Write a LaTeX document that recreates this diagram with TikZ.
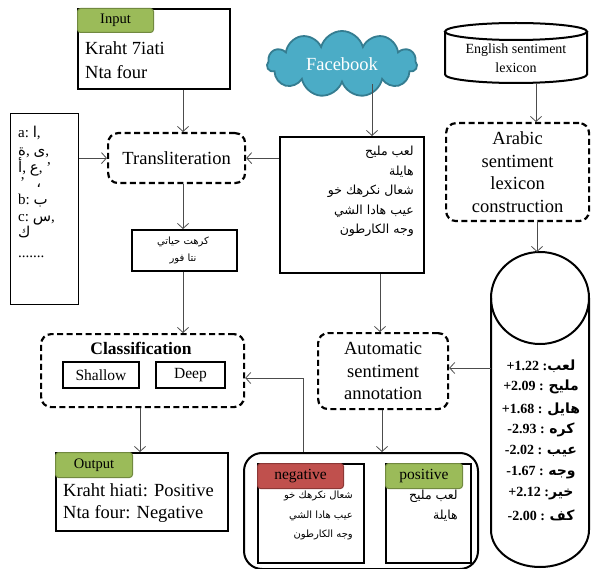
\documentclass[tikz,border=0pt]{standalone}
\usepackage{fontspec}
\setmainfont{Liberation Serif}
\newfontfamily\arabicfont[Script=Arabic]{DejaVu Sans}
\TeXXeTstate=1
\usetikzlibrary{arrows.meta,shapes.symbols,shapes.geometric}
\newcommand\AR[1]{{\arabicfont\beginR #1\endR}}
\newcommand\ARL[1]{{\arabicfont\fontsize{15}{17}\selectfont #1}}
\definecolor{gfill}{HTML}{9BBB59}
\definecolor{gdraw}{HTML}{71893F}
\definecolor{rfill}{HTML}{C0504D}
\definecolor{rdraw}{HTML}{8C3836}
\definecolor{cfill}{HTML}{4BACC6}
\definecolor{cdraw}{HTML}{357D91}
\begin{document}
\begin{tikzpicture}[x=1pt,y=-1pt,
  box/.style={draw, line width=2pt, inner sep=0pt, anchor=north west},
  dbox/.style={draw, line width=2.2pt, dash pattern=on 6pt off 3.5pt, rounded corners=10pt, inner sep=0pt, anchor=north west, align=center},
  tabg/.style={fill=gfill, draw=gdraw, line width=1pt, rounded corners=3pt, anchor=north west, inner sep=0pt, font=\fontsize{14.5}{16}\selectfont},
  tabr/.style={fill=rfill, draw=rdraw, line width=1pt, rounded corners=3pt, anchor=north west, inner sep=0pt, font=\fontsize{15.5}{17}\selectfont},
  big/.style={font=\fontsize{18.5}{22.5}\selectfont},
  lex/.style={font=\fontsize{14}{16}\selectfont\bfseries, inner sep=0pt},
  arsm/.style={font=\fontsize{12.5}{19.5}\selectfont, inner sep=0pt, align=right},
  lstline/.style={anchor=base west, inner sep=0pt, text height=10pt, text depth=2pt, font=\fontsize{15}{17}\selectfont},
  conn/.style={draw=black!70, line width=0.8pt, -{Straight Barb[length=5pt,width=11pt]}}]
\useasboundingbox (0,0) rectangle (594,569);

% Input
\node[box, minimum width=152pt, minimum height=80pt] (inp) at (77,8) {};
\node[tabg, minimum width=76pt, minimum height=24pt] (inptab) at (77,8) {Input};
\node[big, anchor=west, inner sep=0pt] (inp1) at (85,48) {Kraht 7iati};
\node[big, anchor=west, inner sep=0pt] (inp2) at (85,72) {Nta four};

% Facebook cloud
\node[cloud, cloud puffs=11, aspect=2.3, fill=cfill, draw=cdraw, line width=1.8pt, minimum width=150pt, minimum height=66pt, inner sep=0pt, text=white, big] (fb) at (342,64) {Facebook};

% English lexicon cylinder
\node[inner sep=0pt, minimum width=142pt, minimum height=60pt, anchor=north west] (eng) at (445,23) {};
\draw[line width=2pt] (516,31.5) ellipse [x radius=71pt, y radius=8.5pt];
\draw[line width=2pt] (445,31.5) -- (445,74.5) arc[start angle=180, end angle=360, x radius=71pt, y radius=8.5pt] -- (587,31.5);
\node[font=\fontsize{14}{18.5}\selectfont, align=center, inner sep=0pt] (engt) at (516,58) {English sentiment\\lexicon};

% Arabic lexicon construction
\node[dbox, big, minimum width=143pt, minimum height=98pt] (arc) at (445,122) {Arabic\\sentiment\\lexicon\\construction};

% Left list
\node[draw, line width=1pt, inner sep=0pt, anchor=north west, minimum width=68pt, minimum height=191pt] (lst) at (10,113) {};
\node[lstline] (l1) at (18,138) {a:\ \ARL{ا},};
\node[lstline] (l2) at (18,156) {\ARL{ة}, \ARL{ى},};
\node[lstline] (l3) at (18,173) {\ARL{أ}, \ARL{ع}, '};
\node[lstline] (l4) at (20,188) {'\ \ \ \ARL{،}};
\node[lstline] (l5) at (18,205) {b:\ \ARL{ب}};
\node[lstline] (l6) at (18,222) {c:\ \ARL{س},};
\node[lstline] (l7) at (18,238) {\ARL{ك}};
\node[lstline] (l8) at (18,258) {.......};

% Transliteration
\node[dbox, big, minimum width=137pt, minimum height=50pt] (tr) at (107,132) {Transliteration};

% Big Arabic box
\node[box, minimum width=144pt, minimum height=136pt] (bigb) at (279,136) {};
\node[arsm, anchor=north east] (bigt) at (414,146) {\AR{لعب مليح}\\\AR{هايلة}\\\AR{شعال نكرهك خو}\\\AR{عيب هادا الشي}\\\AR{وجه الكارطون}};

% Small transliterated box
\node[box, minimum width=105pt, minimum height=41pt] (sm) at (131,229) {};
\node[font=\fontsize{10}{17}\selectfont, align=center, inner sep=0pt] (smt) at (183,250) {\AR{كرهت حياتي}\\\AR{نتا فور}};

% Classification
\node[dbox, minimum width=203pt, minimum height=73pt] (cls) at (40,333) {};
\node[font=\fontsize{17.5}{20}\selectfont\bfseries, inner sep=0pt] (clst) at (141,348) {Classification};
\node[box, minimum width=76pt, minimum height=26pt, font=\fontsize{15.5}{17}\selectfont] (sh) at (62,361) {Shallow};
\node[box, minimum width=69pt, minimum height=26pt, font=\fontsize{15.5}{17}\selectfont] (dp) at (155,361) {Deep};

% Automatic annotation
\node[dbox, big, minimum width=130pt, minimum height=76pt] (auto) at (317,332) {Automatic\\sentiment\\annotation};

% Lexicon cylinder
\node[inner sep=0pt, minimum width=98pt, minimum height=315pt, anchor=north west] (lexc) at (491,252) {};
\draw[line width=2pt] (540,298) ellipse [x radius=49pt, y radius=46pt];
\draw[line width=2pt] (491,298) -- (491,530) arc[start angle=180, end angle=360, x radius=49pt, y radius=37pt] -- (589,298);
\node[lex] (x1) at (541,366) {+1.22 :\AR{\bfseries لعب}};
\node[lex] (x2) at (541,387) {+2.09 : \AR{\bfseries مليح}};
\node[lex] (x3) at (541,409) {+1.68 : \AR{\bfseries هايل}};
\node[lex] (x4) at (541,430) {-2.93 : \AR{\bfseries كره}};
\node[lex] (x5) at (541,451) {-2.02 : \AR{\bfseries عيب}};
\node[lex] (x6) at (541,473) {-1.67 : \AR{\bfseries وجه}};
\node[lex] (x7) at (541,494) {+2.12 :\AR{\bfseries خير}};
\node[lex] (x8) at (541,515) {-2.00 : \AR{\bfseries كف}};

% Output
\node[box, minimum width=172pt, minimum height=78pt] (out) at (55,452) {};
\node[tabg, minimum width=77pt, minimum height=25pt] (outtab) at (55,452) {Output};
\node[big, anchor=west, inner sep=0pt] (out1) at (63,490) {Kraht hiati: Positive};
\node[big, anchor=west, inner sep=0pt] (out2) at (63,514) {Nta four: Negative};

% Negative / positive container
\node[draw, line width=2pt, rounded corners=18pt, inner sep=0pt, anchor=north west, minimum width=234pt, minimum height=116pt] (cont) at (243,452) {};
\node[box, minimum width=106pt, minimum height=99pt] (neg) at (257,463) {};
\node[tabr, minimum width=86pt, minimum height=25pt] (negtab) at (257,463) {negative};
\node[arsm, font=\fontsize{10}{19.5}\selectfont, anchor=north east] (negt) at (353,491) {\AR{شعال نكرهك خو}\\\AR{عيب هادا الشي}\\\AR{وجه الكارطون}};
\node[box, minimum width=85pt, minimum height=99pt] (pos) at (385,463) {};
\node[tabg, minimum width=77pt, minimum height=25pt, font=\fontsize{15.5}{17}\selectfont] (postab) at (385,463) {positive};
\node[arsm, font=\fontsize{12.5}{19.5}\selectfont, anchor=north east] (post) at (458,490) {\AR{لعب مليح}\\\AR{هايلة}};

% Connectors
\draw[conn] (inp.south-|183,0) -- (tr.north-|183,0);
\draw[conn] (lst.east|-tr.west) -- (tr.west);
\draw[conn] (bigb.west|-tr.east) -- (tr.east);
\draw[conn] (fb.south-|372,0) -- (bigb.north-|372,0);
\draw[conn] (tr.south-|183,0) -- (sm.north-|183,0);
\draw[conn] (sm.south-|183,0) -- (cls.north-|183,0);
\draw[conn] (bigb.south-|380,0) -- (auto.north-|380,0);
\draw[conn] (lexc.west|-0,368) -- (auto.east|-0,368);
\draw[conn] (cont.north-|303,0) |- (cls.east|-0,378);
\draw[conn] (auto.south-|382,0) -- (cont.north-|382,0);
\draw[conn] (cls.south-|140,0) -- (out.north-|140,0);
\draw[conn] (eng.south-|536,0) -- (arc.north-|536,0);
\draw[conn] (arc.south-|537,0) -- (lexc.north-|537,0);
\end{tikzpicture}
\end{document}
